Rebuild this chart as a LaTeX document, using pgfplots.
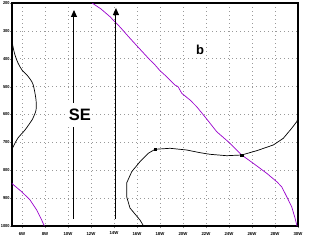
\documentclass[border=0pt]{standalone}
\usepackage{pgfplots}
\pgfplotsset{compat=1.18}
\usepackage{fontspec}
\setmainfont{Liberation Sans}
\setsansfont{Liberation Sans}
\usetikzlibrary{arrows.meta}
\definecolor{myviolet}{RGB}{153,0,204}
\begin{document}
\begin{tikzpicture}
\useasboundingbox (-12pt,-15pt) rectangle (300pt,226pt);
\begin{axis}[
  anchor=south west, at={(0pt,0pt)},
  width=286pt, height=223pt, scale only axis,
  xmin=5.13, xmax=30, ymin=200, ymax=1000, y dir=reverse,
  axis line style={line width=1.1pt},
  xtick={6,8,...,30},
  xticklabels={6W,8W,10W,12W,14W,16W,18W,20W,22W,24W,26W,28W,30W},
  ytick={200,300,...,1000},
  yticklabels={200,300,400,500,600,700,800,900,1000},
  tick label style={font=\fontsize{4.3}{5}\selectfont\bfseries},
  tick align=outside, major tick length=2pt,
  xtick pos=bottom, ytick pos=left,
  xticklabel style={yshift=-0.5pt},
  yticklabel style={inner xsep=0.3pt, xscale=0.9},
  grid=major,
  major grid style={gray!80, line width=0.6pt, dash pattern=on 0.7pt off 3.3pt},
  /pgf/number format/assume math mode=true,
]
% black left curve
\addplot[black, line width=0.7pt, smooth] coordinates {
 (5.17,343.5) (5.22,357.8) (5.39,386.5) (5.65,415.2) (6.0,440.4) (6.43,458.3)
 (6.87,483.4) (7.04,504.9) (7.22,548) (7.22,583.8) (6.96,612.5) (6.87,619.7)
 (6.26,655.6) (5.65,684.3) (5.22,716.6) (5.17,723.7)};
% black right curve
\addplot[black, line width=0.7pt] coordinates {
 (16.52,996.4) (16.26,978.5) (15.39,935.4) (15.10,894.9) (15.10,845.7)
 (15.54,805.2) (16.26,769.3) (16.98,739.2) (17.57,724.8) (18.87,721.2)
 (20.32,727.3) (21.48,737.0) (22.35,742.8) (23.80,747.8) (25.10,745.3)
 (26.41,729.8) (27.85,709.4) (28.72,685.4) (29.45,649.5) (29.89,625.8) (30,612.5)};
% purple main curve
\addplot[myviolet, line width=0.7pt] coordinates {
 (12.09,200) (12.87,221.5) (13.65,249.1) (14.52,286.1) (15.39,326.6)
 (16.26,365.7) (17.13,404.5) (17.57,422.4) (18.0,442.9) (18.58,464.4)
 (19.30,494.2) (19.57,500.2) (19.89,523.9) (20.61,548.0) (21.19,572.0)
 (22.06,616.1) (22.93,661.7) (24.09,703.3) (25.10,745.3) (26.11,775.0)
 (27.28,810.9) (28.15,841.1) (28.58,859.0) (29.02,894.9) (29.45,930.8)
 (29.74,971.3) (29.89,996.4) (29.92,1000)};
% purple bottom-left curve
\addplot[myviolet, line width=0.7pt] coordinates {
 (5.13,846) (5.17,849.3) (5.97,876.9) (6.7,906.7) (7.28,942.6) (7.71,978.5) (7.94,1000)};
% markers
\addplot[only marks, mark=square*, mark size=1.1pt, black] coordinates {
 (17.57,724.8) (25.10,745.3)};
% arrows
\addplot[black, line width=1pt, -{Triangle[length=7pt,width=6pt]}] coordinates {
 (10.52,975) (10.52,225)};
\addplot[black, line width=1pt, -{Triangle[length=7pt,width=6pt]}] coordinates {
 (14.17,975) (14.17,218)};
\node[fill=white, inner xsep=1pt, inner ysep=6pt, font=\fontsize{16.5}{17}\selectfont\bfseries]
  at (axis cs:11.04,601.8) {SE};
\node[font=\fontsize{13}{13}\selectfont\bfseries] at (axis cs:21.48,368.6) {b};
\end{axis}
\end{tikzpicture}
\end{document}
